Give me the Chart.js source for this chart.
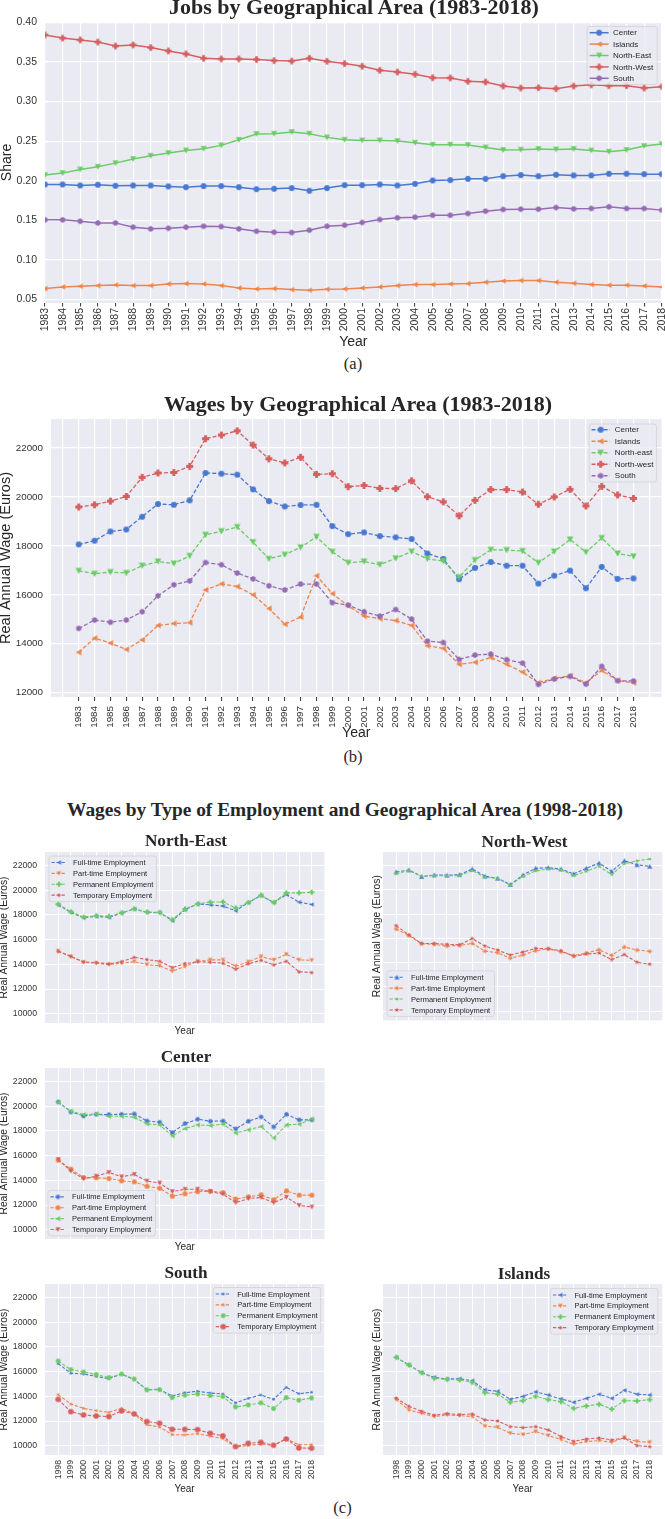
<!DOCTYPE html>
<html><head><meta charset="utf-8">
<script src="https://cdn.jsdelivr.net/npm/chart.js@4.4.1/dist/chart.umd.min.js"></script>
<style>
html,body{margin:0;padding:0;background:#fff;}
body{width:665px;height:1519px;position:relative;overflow:hidden;}
.t{position:absolute;white-space:nowrap;text-align:center;line-height:1;color:#262626;font-family:"Liberation Serif","Times New Roman",serif;}
</style></head><body>
<script>
// ---------- DATA ----------
const yearsLong = [1983,1984,1985,1986,1987,1988,1989,1990,1991,1992,1993,1994,1995,1996,1997,1998,1999,2000,2001,2002,2003,2004,2005,2006,2007,2008,2009,2010,2011,2012,2013,2014,2015,2016,2017,2018];
const yearsShort = [1998,1999,2000,2001,2002,2003,2004,2005,2006,2007,2008,2009,2010,2011,2012,2013,2014,2015,2016,2017,2018];

// (a) share of jobs
const jobsCenter = [0.1953,0.1953,0.1940,0.1949,0.1936,0.1940,0.1940,0.1928,0.1919,0.1932,0.1932,0.1919,0.1894,0.1898,0.1907,0.1873,0.1907,0.1944,0.1944,0.1953,0.1940,0.1961,0.2003,0.2008,0.2024,0.2024,0.2058,0.2071,0.2058,0.2075,0.2067,0.2067,0.2088,0.2088,0.2083,0.2083];
const jobsIslands = [0.0639,0.0660,0.0668,0.0677,0.0685,0.0677,0.0677,0.0698,0.0702,0.0698,0.0677,0.0647,0.0634,0.0639,0.0626,0.0618,0.0630,0.0634,0.0647,0.0660,0.0677,0.0690,0.0690,0.0698,0.0702,0.0719,0.0735,0.0740,0.0740,0.0719,0.0706,0.0690,0.0681,0.0681,0.0673,0.0660];
const jobsNorthEast = [0.2071,0.2096,0.2142,0.2176,0.2222,0.2273,0.2315,0.2349,0.2382,0.2404,0.2446,0.2517,0.2589,0.2593,0.2614,0.2593,0.2547,0.2517,0.2509,0.2509,0.2500,0.2479,0.2454,0.2454,0.2450,0.2420,0.2387,0.2391,0.2400,0.2395,0.2400,0.2382,0.2366,0.2387,0.2437,0.2463];
const jobsNorthWest = [0.3840,0.3800,0.3777,0.3750,0.3700,0.3713,0.3680,0.3638,0.3600,0.3545,0.3537,0.3537,0.3530,0.3516,0.3510,0.3545,0.3507,0.3478,0.3444,0.3393,0.3372,0.3343,0.3300,0.3297,0.3254,0.3246,0.3195,0.3170,0.3174,0.3162,0.3195,0.3210,0.3200,0.3200,0.3170,0.3187];
const jobsSouth = [0.1506,0.1506,0.1489,0.1468,0.1468,0.1414,0.1393,0.1401,0.1414,0.1426,0.1422,0.1393,0.1363,0.1350,0.1346,0.1376,0.1426,0.1439,0.1473,0.1510,0.1532,0.1540,0.1565,0.1565,0.1586,0.1616,0.1637,0.1641,0.1641,0.1662,0.1645,0.1650,0.1671,0.1650,0.1650,0.1629];
const jobsTicks = [0.05,0.10,0.15,0.20,0.25,0.30,0.35,0.40];

// (b) real annual wage by area
const wageCenter = [18060,18210,18590,18670,19190,19710,19680,19860,20980,20950,20910,20310,19830,19610,19670,19680,18810,18480,18550,18400,18350,18280,17690,17470,16640,17100,17340,17190,17190,16460,16780,16990,16270,17140,16650,16670];
const wageIslands = [13650,14230,14030,13770,14160,14750,14830,14860,16200,16450,16340,16000,15440,14800,15090,16780,16050,15550,15130,15030,14950,14750,13920,13810,13160,13240,13440,13160,12840,12410,12590,12690,12410,12910,12500,12400];
const wageNorthEast = [16980,16860,16930,16890,17190,17360,17280,17590,18450,18600,18770,18150,17470,17640,17940,18370,17760,17310,17360,17230,17490,17770,17470,17380,16720,17420,17840,17830,17790,17310,17770,18260,17740,18320,17690,17570];
const wageNorthWest = [19590,19680,19830,20020,20800,20980,21000,21250,22380,22530,22700,22120,21560,21390,21620,20920,20950,20420,20470,20350,20340,20660,20010,19800,19230,19860,20300,20300,20200,19700,20000,20310,19630,20430,20080,19940];
const wageSouth = [14630,14970,14880,14970,15310,15960,16410,16570,17320,17230,16890,16650,16370,16200,16440,16440,15680,15580,15310,15130,15400,15010,14110,14050,13360,13540,13580,13350,13210,12340,12560,12670,12350,13080,12490,12480];
const wageTicksB = [12000,14000,16000,18000,20000,22000];

// (c) wages by type of employment
const neFull = [18820,18210,17780,17890,17810,18160,18480,18210,18180,17540,18420,18900,18820,18720,18340,19010,19570,19010,19650,19040,18850];
const nePart = [15080,14630,14170,14090,13980,14090,14220,13980,13880,13450,13820,14250,14360,14360,13850,14200,14630,14360,14810,14360,14330];
const nePerm = [18880,18260,17830,17940,17890,18180,18500,18240,18210,17620,18480,18900,19040,19060,18560,19010,19600,19010,19790,19790,19840];
const neTemp = [15050,14650,14200,14140,14040,14220,14570,14390,14250,13740,14060,14220,14170,14090,13610,14040,14330,13960,14250,13400,13340];

const nwFull = [21460,21620,21080,21210,21190,21240,21700,21110,20940,20430,21210,21760,21810,21700,21300,21760,22190,21510,22380,22050,21920];
const nwPart = [16770,16230,15550,15500,15360,15420,15580,14950,14820,14360,14630,14980,15140,14900,14580,14790,15060,14600,15280,15040,14930];
const nwPerm = [21320,21570,21130,21160,21160,21160,21570,21020,20920,20370,21110,21540,21700,21650,21160,21510,21920,21240,22140,22380,22520];
const nwTemp = [17040,16280,15580,15580,15500,15470,15980,15360,15040,14630,14870,15170,15140,14980,14520,14710,14790,14250,14660,14030,13870];

const ceFull = [20350,19540,19220,19350,19330,19350,19380,18810,18710,17870,18600,18950,18790,18810,18170,18790,19140,18330,19350,18900,18900];
const cePart = [15630,14910,14230,14210,14150,13960,13880,13520,13360,12720,12910,13090,13120,13010,12480,12670,12830,12430,13150,12800,12800];
const cePerm = [20320,19600,19330,19380,19190,19190,19110,18570,18490,17600,18190,18490,18440,18550,17840,18090,18360,17440,18490,18550,18950];
const ceTemp = [15690,14750,14130,14340,14640,14290,14480,13940,13790,13090,13280,13280,13090,12880,12190,12530,12610,12190,12640,11970,11840];

const soFull = [16650,15870,15810,15620,15430,15810,15350,14540,14570,14030,14300,14410,14270,14190,13470,13840,14110,13760,14730,14220,14330];
const soPart = [14140,13380,13030,12840,12710,13030,12580,11690,11520,10900,10880,10980,10770,10580,9880,10040,10120,10010,10580,10070,10090];
const soPerm = [16860,16160,15970,15760,15520,15810,15410,14520,14540,13900,14090,14190,14060,13980,13140,13300,13470,13010,13900,13680,13870];
const soTemp = [13760,12760,12490,12410,12360,12820,12580,11960,11820,11330,11330,11310,11010,10800,9930,10200,10280,10040,10550,9820,9800];

const isFull = [17160,16540,15920,15540,15410,15430,15270,14520,14410,13760,14000,14360,14110,13790,13520,13840,14170,13840,14490,14170,14110];
const isPart = [13740,12900,12630,12360,12490,12440,12360,11580,11500,11010,10900,11150,10820,10500,10120,10340,10420,10280,10660,10340,10280];
const isPerm = [17160,16540,15920,15460,15380,15330,15140,14300,14190,13520,13650,14000,13740,13570,13030,13220,13360,12980,13650,13630,13740];
const isTemp = [13870,13200,12790,12470,12600,12520,12580,12090,12010,11550,11470,11550,11280,10740,10360,10550,10630,10470,10630,10010,9930];
const wageTicksC = [10000,12000,14000,16000,18000,20000,22000];

const empLabels = ['Full-time Employment','Part-time Employment','Permanent Employment','Temporary Employment'];

// ---------- STYLE ----------
const COL = {blue:'#4878d0', orange:'#ee854a', green:'#6acc64', red:'#d65f5f', purple:'#956cb4'};
const SANS = '"Liberation Sans", Arial, "DejaVu Sans", sans-serif';

function marker(shape, color, size){
  const n = Math.ceil(size + 4);
  const c = document.createElement('canvas');
  c.width = n; c.height = n;
  const g = c.getContext('2d');
  g.fillStyle = color;
  g.translate(n/2, n/2);
  const r = size/2;
  let pts = null;
  g.beginPath();
  if (shape === 'o' || shape === '.') { g.arc(0,0,r,0,Math.PI*2); }
  else if (shape === 'v') pts = [[0,r],[-r,-r*0.9],[r,-r*0.9]];
  else if (shape === '^') pts = [[0,-r],[-r,r*0.9],[r,r*0.9]];
  else if (shape === '<') pts = [[-r,0],[r*0.9,-r],[r*0.9,r]];
  else if (shape === 'P') { const a = r*0.4; pts = [[-a,-r],[a,-r],[a,-a],[r,-a],[r,a],[a,a],[a,r],[-a,r],[-a,a],[-r,a],[-r,-a],[-a,-a]]; }
  else if (shape === 'h') { pts = []; for (let k=0;k<6;k++){ const t=-Math.PI/2+k*Math.PI/3; pts.push([r*Math.cos(t), r*Math.sin(t)]); } }
  else if (shape === '*') { pts = []; for (let k=0;k<10;k++){ const t=-Math.PI/2+k*Math.PI/5; const rr = k%2? r*0.42 : r; pts.push([rr*Math.cos(t), rr*Math.sin(t)]); } }
  if (pts) { g.moveTo(pts[0][0], pts[0][1]); for (let i=1;i<pts.length;i++) g.lineTo(pts[i][0], pts[i][1]); g.closePath(); }
  g.fill();
  return c;
}

const bgPlugin = {id:'plotbg', beforeDraw(ch){
  const {ctx, chartArea:a} = ch;
  ctx.save(); ctx.fillStyle = '#eaeaf2';
  ctx.fillRect(a.left, a.top, a.right-a.left, a.bottom-a.top);
  ctx.restore();
}};

const legendPlugin = {id:'insideLegend', afterDraw(ch, args, o){
  if (!o || !o.display) return;
  const ctx = ch.ctx, a = ch.chartArea, ds = ch.data.datasets;
  ctx.save();
  ctx.font = o.fs + 'px ' + SANS;
  let tw = 0; ds.forEach(d => { tw = Math.max(tw, ctx.measureText(d.label).width); });
  const w = o.padL + o.handle + o.gap + tw + o.padR;
  const h = o.padT + o.row*ds.length + o.padB;
  const x = o.corner[1]==='r' ? a.right - o.margin - w : a.left + o.margin;
  const y = o.corner[0]==='t' ? a.top + o.margin : a.bottom - o.margin - h;
  const rad = 2.5;
  ctx.beginPath();
  ctx.moveTo(x+rad, y); ctx.lineTo(x+w-rad, y); ctx.arcTo(x+w, y, x+w, y+rad, rad);
  ctx.lineTo(x+w, y+h-rad); ctx.arcTo(x+w, y+h, x+w-rad, y+h, rad);
  ctx.lineTo(x+rad, y+h); ctx.arcTo(x, y+h, x, y+h-rad, rad);
  ctx.lineTo(x, y+rad); ctx.arcTo(x, y, x+rad, y, rad); ctx.closePath();
  ctx.fillStyle = 'rgba(234,234,242,0.8)'; ctx.fill();
  ctx.strokeStyle = 'rgba(204,204,204,0.8)'; ctx.lineWidth = 0.8; ctx.stroke();
  ds.forEach((d,i) => {
    const cy = y + o.padT + o.row*(i+0.5);
    const hx = x + o.padL;
    ctx.beginPath();
    ctx.setLineDash(d.borderDash || []);
    ctx.strokeStyle = d.borderColor; ctx.lineWidth = d.borderWidth;
    ctx.moveTo(hx, cy); ctx.lineTo(hx + o.handle, cy); ctx.stroke();
    ctx.setLineDash([]);
    const img = d.pointStyle;
    ctx.drawImage(img, hx + o.handle/2 - img.width/2, cy - img.height/2, img.width, img.height);
    ctx.fillStyle = '#262626'; ctx.textBaseline = 'middle'; ctx.textAlign = 'left';
    ctx.fillText(d.label, hx + o.handle + o.gap, cy + 0.5);
  });
  ctx.restore();
}};

function makeChart(o){
  const c = document.createElement('canvas');
  c.width = o.w; c.height = o.h;
  c.style.cssText = `position:absolute;left:${o.x}px;top:${o.y}px;width:${o.w}px;height:${o.h}px;`;
  document.body.appendChild(c);
  const n = o.series.length;
  const inRange = v => v >= o.xLo && v <= o.xHi;
  return new Chart(c, {
    type: 'line',
    data: {
      labels: o.labels,
      datasets: o.series.map((s,i) => ({
        label: s.label, data: s.data,
        borderColor: s.color, backgroundColor: s.color,
        borderWidth: o.lw, borderDash: o.dash || [],
        pointStyle: marker(s.m, s.color, s.ms), pointRadius: s.ms/2, pointHoverRadius: s.ms/2,
        pointBorderWidth: 0, fill: false, tension: 0, order: n - i
      }))
    },
    options: {
      responsive: false, animation: false, events: [],
      layout: {padding: {top: o.padTop, left: 0, right: o.padRight || 0, bottom: 0}},
      plugins: {legend: {display: false}, tooltip: {enabled: false}, insideLegend: o.legend || {display: false}},
      scales: {
        x: {
          type: 'linear', min: o.xMin, max: o.xMax, border: {display: false},
          grid: {
            color: ctx => (o.hideEdge && ctx.tick && !inRange(ctx.tick.value)) ? 'rgba(0,0,0,0)' : '#ffffff',
            lineWidth: o.gw, drawTicks: !!o.xTL, tickLength: o.xTL || 0, tickWidth: 1,
            tickColor: ctx => (ctx.tick && inRange(ctx.tick.value)) ? '#333333' : 'rgba(0,0,0,0)'
          },
          ticks: {
            display: !!o.xTicks, stepSize: 1, includeBounds: false, autoSkip: false,
            minRotation: 90, maxRotation: 90, padding: o.xPad || 0,
            font: {family: SANS, size: o.xFs || 9}, color: '#333333',
            callback: v => inRange(v) ? String(v) : ''
          },
          title: {display: !!o.xTitle, text: o.xTitle || '', font: {family: SANS, size: o.xTs || 10}, color: '#262626', padding: 0},
          afterFit: s => { s.height = o.xH; s.paddingLeft = 0; s.paddingRight = 0; s.paddingTop = 0; s.paddingBottom = 0; }
        },
        y: {
          type: 'linear', min: o.yMin, max: o.yMax, border: {display: false},
          grid: {color: '#ffffff', lineWidth: o.gw, drawTicks: false},
          ticks: {
            display: !!o.yTicks, padding: o.yPad || 0,
            font: {family: SANS, size: o.yFs || 9}, color: '#333333', callback: o.yFmt
          },
          afterBuildTicks: s => { s.ticks = o.yTickVals.map(v => ({value: v})); },
          title: {display: !!o.yTitle, text: o.yTitle || '', font: {family: SANS, size: o.yTs}, color: '#262626', padding: {top: o.yTp, bottom: 0}},
          afterFit: s => { s.width = o.yW; s.paddingLeft = 0; s.paddingRight = 0; s.paddingTop = 0; s.paddingBottom = 0; }
        }
      }
    },
    plugins: [bgPlugin, legendPlugin]
  });
}

function txt(s, cx, base, size, bold){
  const d = document.createElement('div');
  d.className = 't';
  d.textContent = s;
  d.style.left = (cx - 350) + 'px';
  d.style.width = '700px';
  d.style.top = (base - 0.8375*size) + 'px';
  d.style.fontSize = size + 'px';
  d.style.fontWeight = bold ? 'bold' : 'normal';
  document.body.appendChild(d);
}

const fmtInt = v => String(Math.round(v));

// ---------- (a) ----------
makeChart({
  x:0, y:0, w:665, h:351, padTop:22, padRight:2,
  labels: yearsLong,
  series: [
    {label:'Center', data:jobsCenter, color:COL.blue, m:'o', ms:5.8},
    {label:'Islands', data:jobsIslands, color:COL.orange, m:'<', ms:5.5},
    {label:'North-East', data:jobsNorthEast, color:COL.green, m:'v', ms:6},
    {label:'North-West', data:jobsNorthWest, color:COL.red, m:'P', ms:6.5},
    {label:'South', data:jobsSouth, color:COL.purple, m:'h', ms:6}
  ],
  lw:1.5, gw:1.2,
  xMin:1983, xMax:2018, xLo:1983, xHi:2018, xTicks:true, xFs:10.5, xTL:3.5, xPad:1.5, xH:48, xTitle:'Year', xTs:14,
  yMin:0.0457, yMax:0.4003, yTickVals:jobsTicks, yFmt: v => v.toFixed(2), yTicks:true, yFs:10.5, yPad:8, yW:45, yTitle:'Share', yTs:14, yTp:-1.2,
  legend:{display:true, corner:'tr', margin:4.5, fs:8, row:11.4, padT:0.5, padB:0.5, padL:2.5, handle:19, gap:4.3, padR:4}
});

// ---------- (b) ----------
makeChart({
  x:0, y:380, w:665, h:362, padTop:39,
  labels: yearsLong,
  series: [
    {label:'Center', data:wageCenter, color:COL.blue, m:'o', ms:6},
    {label:'Islands', data:wageIslands, color:COL.orange, m:'<', ms:6},
    {label:'North-east', data:wageNorthEast, color:COL.green, m:'v', ms:6.5},
    {label:'North-west', data:wageNorthWest, color:COL.red, m:'P', ms:7},
    {label:'South', data:wageSouth, color:COL.purple, m:'h', ms:6}
  ],
  lw:1.3, dash:[4,2], gw:1.2,
  xMin:1981.25, xMax:2019.77, xLo:1983, xHi:2018, xTicks:true, xFs:9.8, xTL:4, xPad:5, xH:45, xTitle:'Year', xTs:14,
  yMin:11825, yMax:23185, yTickVals:wageTicksB, yFmt:fmtInt, yTicks:true, yFs:9.8, yPad:8, yW:51, yTitle:'Real Annual Wage (Euros)', yTs:14.5, yTp:-3.2,
  legend:{display:true, corner:'tr', margin:5, fs:8, row:11.5, padT:0, padB:0.5, padL:2.3, handle:18.3, gap:5, padR:3}
});

// ---------- (c) ----------
function panel(p){
  const left = p.col === 0;
  makeChart({
    x: left ? 0 : 370, y: p.y, w: left ? 327 : 295, h: p.h, padTop: 12,
    labels: yearsShort,
    series: p.series.map((s,i) => ({label: empLabels[i], data: s.data, color: s.color, m: s.m, ms: s.ms})),
    lw:1.1, dash:[3.3,1.7], gw:1, hideEdge:true,
    xMin:1996.96, xMax:2019, xLo:1998, xHi:2018, xTicks:p.xTicks, xFs:8.7, xTL:0, xPad:5, xH:p.xH, xTitle:p.xTitle, xTs:10,
    yMin:9250, yMax:23100, yTickVals:wageTicksC, yFmt:fmtInt, yTicks:left, yFs:8.7, yPad:8, yW: left ? 45 : 13,
    yTitle:'Real Annual Wage (Euros)', yTs:10.3, yTp: left ? -1.7 : 1.3,
    legend:{display:true, corner:p.corner, margin:p.margin, fs:7.5, row:10.9, padT:1, padB:1, padL:2.5, handle:15, gap:6.5, padR:3}
  });
}

panel({col:0, y:840, h:197, xH:14, xTitle:'Year', xTicks:false, corner:'tl', margin:4,
  series:[{data:neFull,color:COL.blue,m:'<',ms:4.5},{data:nePart,color:COL.orange,m:'v',ms:4.5},{data:nePerm,color:COL.green,m:'P',ms:5.2},{data:neTemp,color:COL.red,m:'h',ms:3.5}]});
panel({col:1, y:840, h:183, xH:0, xTitle:'', xTicks:false, corner:'bl', margin:4,
  series:[{data:nwFull,color:COL.blue,m:'^',ms:5},{data:nwPart,color:COL.orange,m:'P',ms:4.2},{data:nwPerm,color:COL.green,m:'h',ms:3.2},{data:nwTemp,color:COL.red,m:'*',ms:5.2}]});
panel({col:0, y:1056, h:197, xH:14, xTitle:'Year', xTicks:false, corner:'bl', margin:3,
  series:[{data:ceFull,color:COL.blue,m:'o',ms:4.5},{data:cePart,color:COL.orange,m:'o',ms:5},{data:cePerm,color:COL.green,m:'<',ms:4.8},{data:ceTemp,color:COL.red,m:'v',ms:4.8}]});
panel({col:0, y:1272, h:223, xH:40, xTitle:'Year', xTicks:true, corner:'tr', margin:3.5,
  series:[{data:soFull,color:COL.blue,m:'.',ms:2.6},{data:soPart,color:COL.orange,m:'*',ms:4.2},{data:soPerm,color:COL.green,m:'o',ms:4.8},{data:soTemp,color:COL.red,m:'o',ms:5.6}]});
panel({col:1, y:1272, h:223, xH:40, xTitle:'Year', xTicks:true, corner:'tr', margin:4.5,
  series:[{data:isFull,color:COL.blue,m:'<',ms:4.5},{data:isPart,color:COL.orange,m:'v',ms:4.5},{data:isPerm,color:COL.green,m:'P',ms:5.2},{data:isTemp,color:COL.red,m:'h',ms:3.5}]});

// ---------- titles & captions ----------
txt('Jobs by Geographical Area (1983-2018)', 354, 14, 22, true);
txt('(a)', 353, 370, 16.5, false);
txt('Wages by Geographical Area (1983-2018)', 358, 411, 22, true);
txt('(b)', 353, 763, 16.5, false);
txt('Wages by Type of Employment and Geographical Area (1998-2018)', 345, 816.7, 19.4, true);
txt('North-East', 186, 846.5, 17.2, true);
txt('North-West', 524.5, 847, 17.2, true);
txt('Center', 186, 1062.7, 17.2, true);
txt('South', 186, 1278.3, 17.2, true);
txt('Islands', 524, 1279, 17.2, true);
txt('(c)', 342.5, 1514, 16.5, false);
</script>
</body></html>
